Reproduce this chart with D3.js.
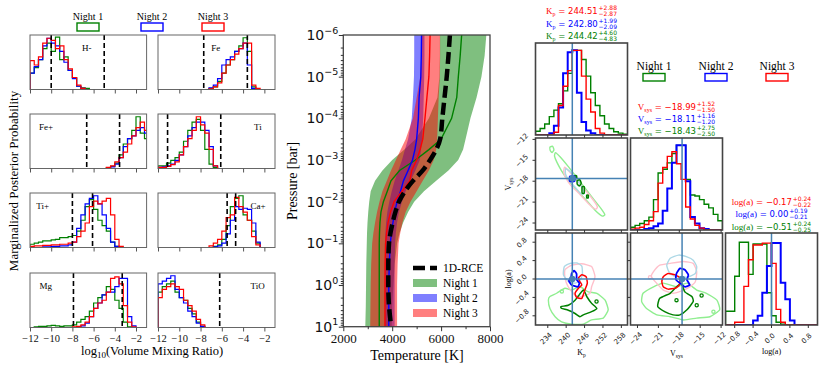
<!DOCTYPE html>
<html><head><meta charset="utf-8">
<script src="https://cdn.jsdelivr.net/npm/d3@7"></script>
<style>body{margin:0;background:#fff}svg{display:block}</style>
</head><body>
<svg id="c" width="831" height="369"></svg>
<script>
// ================= DATA =================
const nights = ["Night 1","Night 2","Night 3"];
const nightColors = ["green","blue","red"];

// ---- left: marginalized posteriors of log10 VMR ----
const species = ["H-","Fe","Fe+","Ti","Ti+","Ca+","Mg","TiO"];
const speciesLabelX = [-7.1,-7.0,-11.15,-2.97,-11.4,-3.3,-11.1,-3.3];
const vmrTicks = [-12,-10,-8,-6,-4,-2];
const binWidth = 0.4;
const histStart = [-12,-7.2,-4.8,-12,-12,-7.2,-12,-12];
const hist1 = [ // Night 1
  [0.3,0.4,0.55,0.75,0.85,0.7,0.96,0.55,0.6,0.35,0.22,0.06,0.03,0.02,0],
  [0.02,0.05,0.15,0.3,0.45,0.55,0.7,0.8,0.95,0.7,0.05,0],
  [0.01,0.04,0.1,0.25,0.45,0.55,0.7,0.95,0.65,0.55],
  [0.05,0.05,0.1,0.15,0.2,0.3,0.5,0.7,0.85,0.9,0.7,0.35,0.08,0.02,0],
  [0.06,0.08,0.1,0.12,0.12,0.14,0.15,0.18,0.18,0.2,0.22,0.3,0.5,0.75,0.88,0.7,0.5,0.4,0.3,0.1,0.02,0],
  [0,0.02,0.05,0.15,0.4,0.75,0.9,0.95,0.6,0.5,0.3,0.08,0],
  [0,0.01,0.02,0.02,0.03,0.04,0.03,0.02,0.03,0.03,0.05,0.1,0.15,0.2,0.3,0.45,0.55,0.6,0.75,0.7,0.5,0.35,0.1,0.01,0],
  [0.65,0.75,0.8,0.85,0.65,0.55,0.5,0.35,0.25,0.1,0.02,0]
];
const hist2 = [ // Night 2
  [0.3,0.42,0.55,0.8,0.94,0.85,0.8,0.7,0.5,0.35,0.2,0.06,0.02,0,0],
  [0.03,0.08,0.2,0.45,0.55,0.6,0.7,0.75,0.85,0.45,0.02,0],
  [0,0.03,0.08,0.2,0.4,0.55,0.6,0.7,0.75,0.65],
  [0.02,0.03,0.05,0.08,0.15,0.25,0.4,0.6,0.75,0.85,0.85,0.7,0.4,0.05,0],
  [0,0,0,0.01,0.01,0.02,0.02,0.03,0.03,0.05,0.1,0.35,0.6,0.8,0.9,0.95,0.8,0.6,0.35,0.1,0.02,0],
  [0,0.01,0.03,0.08,0.25,0.5,0.75,0.7,0.72,0.7,0.45,0.1,0],
  [0,0,0,0,0,0,0,0,0,0,0,0.01,0.03,0.08,0.2,0.35,0.45,0.6,0.65,0.65,0.75,0.9,0.9,0.2,0.03],
  [0.8,0.85,0.9,0.95,0.7,0.55,0.45,0.3,0.2,0.08,0.02,0]
];
const hist3 = [ // Night 3
  [0.53,0.45,0.6,0.85,0.94,0.9,0.75,0.8,0.55,0.38,0.22,0.08,0.02,0,0],
  [0.01,0.05,0.12,0.3,0.45,0.55,0.65,0.75,0.85,0.85,0.08,0.02],
  [0.02,0.05,0.12,0.2,0.3,0.45,0.6,0.75,0.85,0.7],
  [0.02,0.02,0.04,0.07,0.12,0.25,0.4,0.55,0.7,0.95,0.8,0.65,0.35,0.05,0],
  [0.02,0.03,0.03,0.04,0.04,0.05,0.05,0.06,0.06,0.08,0.1,0.2,0.3,0.45,0.75,0.85,0.8,0.85,0.9,0.6,0.15,0.02],
  [0.03,0.08,0.15,0.3,0.55,0.6,0.92,0.75,0.65,0.5,0.2,0.05,0],
  [0,0,0,0,0,0,0,0,0,0,0.01,0.02,0.05,0.1,0.2,0.35,0.45,0.5,0.65,0.9,0.93,0.8,0.4,0.1,0.01],
  [0.55,0.7,0.75,0.8,0.75,0.7,0.5,0.4,0.3,0.15,0.05,0]
];
const refLines = [[-10,-5],[-7.7,-3.6],[-6.65,-3.55],[-11.1,-6.1],[-8,-6.1],[-5.5,-4.7],[-7.9,-3.3],[-6.2]];

// ---- middle: temperature-pressure profiles ----
const tRange = [2000,8000];
const tTicks = [2000,4000,6000,8000];
const tMinor = [3000,5000,7000];
const pDecades = [-6,-5,-4,-3,-2,-1,0,1];
const logP = [-6,-5.5,-5,-4.5,-4,-3.5,-3.25,-3,-2.75,-2.5,-2.25,-2,-1.75,-1.5,-1.25,-1,-0.5,0,0.5,1];
const tRCE  = [6360,6300,6230,6140,6050,5960,5800,5550,5250,4850,4520,4280,4130,4020,3930,3870,3840,3840,3870,3960];
const t1Lo  = [5950,5950,5930,5850,5500,4950,4500,4000,3600,3300,3120,3060,3020,2990,2970,2960,2940,2930,2920,2900];
const t1Mid = [6840,6780,6705,6640,6430,6000,5500,4950,4300,3950,3800,3640,3540,3500,3480,3470,3470,3470,3470,3470];
const t1Hi  = [7850,7780,7650,7450,7200,7000,6900,6700,6300,5800,5300,4900,4650,4450,4300,4200,4100,4050,4000,3980];
const t2Lo  = [4900,4900,4890,4850,4800,4650,4520,4400,4250,4100,3980,3880,3800,3750,3720,3700,3700,3700,3700,3700];
const t2Mid = [5200,5190,5170,5100,5070,5000,4930,4830,4650,4460,4340,4200,4100,4030,3970,3920,3880,3860,3860,3860];
const t2Hi  = [5320,5320,5310,5290,5270,5220,5180,5130,4950,4750,4550,4400,4280,4200,4150,4120,4100,4100,4100,4100];
const t3Lo  = [5200,5200,5150,5000,4850,4550,4350,4150,3950,3780,3600,3480,3380,3300,3230,3180,3140,3120,3110,3100];
const t3Mid = [5550,5530,5500,5420,5340,5250,5140,5000,4800,4720,4400,4080,3930,3830,3770,3730,3710,3705,3705,3705];
const t3Hi  = [5960,5960,5950,5900,5870,5840,5800,5700,5500,5250,5000,4750,4550,4420,4330,4260,4220,4200,4200,4200];

// ---- right: corner plot ----
const kpRange = [230,260], vsRange = [-25,-11.8], laRange = [-1,1];
const kpTicks = [234,240,246,252,258], vsTicks = [-24,-21,-18,-15,-12], laTicks = [-0.8,-0.4,0,0.4,0.8];
const truthKp = 242, truthVs = -17.6, truthLa = 0;
const kpHist = [
  [0.04,0.07,0.12,0.2,0.27,0.34,0.48,0.67,0.92,0.92,0.82,0.64,0.46,0.32,0.21,0.12,0.07,0.035,0.02,0.01],
  [0,0,0,0.02,0.1,0.3,0.67,0.9,0.92,0.46,0.14,0.05,0.02,0,0,0,0,0,0,0],
  [0,0,0,0,0.03,0.32,0.53,0.7,0.92,0.92,0.64,0.39,0.25,0.07,0.02,0,0,0,0,0]
];
const vsHist = [
  [0.03,0.05,0.07,0.1,0.14,0.33,0.62,0.66,0.73,0.83,0.92,0.92,0.55,0.38,0.37,0.33,0.28,0.24,0.17,0.1],
  [0,0,0,0.01,0.02,0.04,0.07,0.21,0.45,0.73,0.92,0.92,0.53,0.14,0.07,0.02,0.01,0,0,0],
  [0.01,0.02,0.03,0.06,0.1,0.2,0.51,0.68,0.8,0.85,0.72,0.55,0.25,0.12,0.05,0.02,0,0,0,0]
];
const laHist = [
  [0.15,0.15,0.53,0.9,0.9,0.55,0.88,0.88,0.88,0.35,0.1,0.03,0.01,0,0,0,0,0,0,0],
  [0,0,0,0,0,0,0.05,0.1,0.35,0.64,0.89,0.89,0.46,0.28,0.05,0,0,0,0,0],
  [0,0,0.03,0.03,0.42,0.71,0.87,0.87,0.89,0.89,0.67,0.17,0.03,0,0,0,0,0,0,0]
];
const kpStats = [["244.51","+2.88","\u22122.87"],["242.80","+1.99","\u22122.09"],["244.42","+4.60","\u22124.83"]];
const vsStats = [["\u221218.99","+1.52","\u22121.50"],["\u221218.11","+1.16","\u22121.20"],["\u221218.43","+2.75","\u22122.50"]];
const laStats = [["\u22120.17","+0.24","\u22120.22"],["0.00","+0.19","\u22120.21"],["\u22120.51","+0.24","\u22120.25"]];
const statColors = ["red","blue","green"];

// contours (Kp, Vsys)
const kvLightGreen = [
  [[236.5,-13.9],[238,-14.5],[240.5,-15.8],[243,-17.2],[246,-18.9],[249,-20.6],[251.5,-22.0],[252.6,-22.8],[251.8,-23.0],[249.5,-22.2],[246.5,-20.7],[243.5,-19.3],[240.5,-17.8],[238.5,-16.5],[237,-15.3],[236.2,-14.4]],
  [[234.7,-13.1],[235.6,-13.0],[236.0,-13.5],[235.4,-13.9],[234.8,-13.6]]
];
const kvPink = [[[239.5,-16.0],[241,-16.6],[243.5,-17.9],[246.5,-19.4],[249,-20.8],[250.2,-21.7],[249.5,-22.0],[247.5,-21.3],[244.5,-19.9],[241.5,-18.6],[239.7,-17.4],[239.2,-16.6]]];
const kvLightBlue = [[[239.8,-16.2],[241.5,-16.7],[243.5,-17.7],[245.5,-19.2],[245.8,-19.8],[244.8,-19.8],[242.8,-18.8],[240.8,-17.8],[239.8,-17.0]]];
const kvGreen = [
  [[243.6,-17.9],[244.5,-17.8],[244.9,-18.3],[244.3,-18.7],[243.6,-18.4]],
  [[245.2,-18.8],[245.9,-18.8],[245.9,-19.7],[245.2,-19.7]],
  [[242.8,-17.2],[243.4,-17.2],[243.4,-17.6],[242.8,-17.6]],
  [[246.7,-20.0],[247.2,-20.0],[247.2,-20.4],[246.7,-20.4]]
];
const kvBlue = [[[241.2,-17.3],[242.7,-17.3],[242.7,-18.0],[241.2,-18.0]]];
// contours (Kp, log a)
const kaLightGreen = [[[234.7,-0.38],[236.9,-0.31],[239.6,-0.2],[241.8,-0.24],[244.5,-0.17],[247.2,-0.28],[250,-0.31],[252.7,-0.46],[253.7,-0.67],[252.1,-0.85],[248.3,-0.89],[245.6,-0.98],[241.8,-0.98],[238.5,-0.93],[236.4,-0.82],[234.7,-0.64],[234.2,-0.46]]];
const kaPink = [[[239.6,0.2],[241.8,0.3],[245.1,0.33],[248.3,0.27],[249.4,0.05],[248.3,-0.17],[247.8,-0.31],[245.1,-0.38],[242.9,-0.35],[240.7,-0.17],[239.6,0.02]]];
const kaLightBlue = [[[239.1,0.09],[239.4,0.27],[241.3,0.34],[243.5,0.35],[245.1,0.28],[245.3,0.12],[244.6,-0.02],[243,-0.09],[240.8,-0.06]]];
const kaGreen = [[[238.3,-0.6],[240.7,-0.57],[242.9,-0.46],[245.6,-0.24],[246.7,-0.38],[248.3,-0.53],[250,-0.64],[248.3,-0.71],[245.6,-0.78],[244.5,-0.82],[242.9,-0.75],[240.7,-0.68],[238.5,-0.64]]];
const kaRed = [[[244,0.02],[245.1,0.09],[246.5,0.05],[246.9,-0.09],[246.1,-0.24],[245.1,-0.42],[243.4,-0.40],[242.9,-0.31],[244,-0.2],[245.1,-0.13],[244.5,-0.06]]];
const kaBlue = [[[241.8,0.12],[242.6,0.18],[243.4,0.11],[243.4,-0.01],[244.3,-0.09],[243.8,-0.17],[241.8,-0.13],[240.9,-0.04],[241.6,0.04]]];
const kaDots = [[249.9,-0.49,"green"],[238.6,-0.27,"lightgreen"]];
// contours (Vsys, log a)
const vaLightGreen = [[[-23.2,-0.31],[-21.7,-0.17],[-20.3,-0.09],[-18.4,-0.17],[-16.9,-0.09],[-15.5,-0.24],[-14.1,-0.31],[-12.6,-0.46],[-12.2,-0.67],[-13.6,-0.82],[-15.5,-0.85],[-17.4,-0.89],[-19.3,-0.82],[-21.2,-0.78],[-22.7,-0.64],[-23.4,-0.49]]];
const vaPink = [[[-21.7,0.16],[-20.8,0.3],[-19.3,0.34],[-17.4,0.38],[-16,0.34],[-15.5,0.16],[-15.7,-0.06],[-16.5,-0.17],[-17.4,-0.24],[-18.9,-0.31],[-20.3,-0.24],[-21.2,-0.1],[-22,0.05]]];
const vaLightBlue = [[[-19.8,0.3],[-19.3,0.45],[-18.1,0.52],[-16.9,0.48],[-16,0.41],[-15.5,0.27],[-15.7,0.12],[-16.7,0.05],[-17.8,0.04],[-18.8,0.07],[-19.5,0.16]]];
const vaGreen = [[[-20.8,-0.42],[-19.3,-0.31],[-18.4,-0.17],[-17.7,-0.09],[-17.2,-0.28],[-16.2,-0.38],[-16,-0.49],[-16.9,-0.67],[-17.9,-0.78],[-18.9,-0.78],[-20.1,-0.71],[-21.1,-0.6]]];
const vaRed = [[[-20.3,0.05],[-19.6,0.12],[-18.6,0.09],[-17.9,0.02],[-18,-0.13],[-18.6,-0.2],[-19.6,-0.22],[-20.3,-0.17],[-20.5,-0.06]]];
const vaBlue = [[[-18.4,0.12],[-17.9,0.23],[-17.2,0.2],[-16.7,0.09],[-16.9,-0.02],[-16.5,-0.13],[-17.2,-0.17],[-17.9,-0.09],[-18.5,-0.01]]];
const vaDots = [[-14.8,-0.36,"green"],[-15.5,-0.57,"green"],[-18.4,-0.46,"green"],[-13.1,-0.71,"lightgreen"],[-22.2,0.04,"pink"]];

// ================= DRAWING =================
const svg = d3.select("#c");
const SERIF = "'Liberation Serif','Times New Roman',serif";
const SANS = "'DejaVu Sans',sans-serif";
const defs = svg.append("defs");
function clip(id,x,y,w,h){defs.append("clipPath").attr("id",id).append("rect").attr("x",x).attr("y",y).attr("width",w).attr("height",h);return `url(#${id})`;}
function stepPts(x0,w,vals){const p=[[x0,0]];vals.forEach((v,j)=>{p.push([x0+j*w,v]);p.push([x0+(j+1)*w,v]);});p.push([x0+vals.length*w,0]);return p;}

// ---------- LEFT PANEL ----------
const colX = [[30,146.6],[158,275]];
const rowY = [35,114,193,273];
const panH = 54.5;
species.forEach((sp,i)=>{
  const c=i%2, r=Math.floor(i/2);
  const x=d3.scaleLinear().domain([-12,-1]).range(colX[c]);
  const y=d3.scaleLinear().domain([0,1]).range([rowY[r]+panH,rowY[r]]);
  const g=svg.append("g");
  const inner=g.append("g").attr("clip-path",clip("cl"+i,colX[c][0],rowY[r],colX[c][1]-colX[c][0],panH));
  [hist1,hist2,hist3].forEach((H,k)=>{
    inner.append("path").attr("d",d3.line().x(d=>x(d[0])).y(d=>y(d[1]))(stepPts(histStart[i],binWidth,H[i])))
      .attr("fill","none").attr("stroke",nightColors[k]).attr("stroke-width",1.2);
  });
  refLines[i].forEach(v=>{
    inner.append("line").attr("x1",x(v)).attr("x2",x(v)).attr("y1",rowY[r]).attr("y2",rowY[r]+panH)
      .attr("stroke","#000").attr("stroke-width",1.6).attr("stroke-dasharray","5,3");
  });
  g.append("rect").attr("x",colX[c][0]).attr("y",rowY[r]).attr("width",colX[c][1]-colX[c][0]).attr("height",panH)
    .attr("fill","none").attr("stroke","#666").attr("stroke-width",1);
  const ax=g.append("g").attr("transform",`translate(0,${rowY[r]+panH})`)
    .call(d3.axisBottom(x).tickValues(vmrTicks).tickSize(4).tickPadding(3).tickFormat(r===3?d3.format("d"):()=>""));
  ax.select(".domain").remove();
  ax.selectAll("line").attr("stroke","#555");
  ax.selectAll("text").attr("font-family",SERIF).attr("font-size",10.5).attr("fill","#111");
  g.append("text").attr("x",x(speciesLabelX[i])).attr("y",rowY[r]+16).attr("font-family",SERIF).attr("font-size",9).text(sp);
});
// legend left
const legLX=[88,152,213];
nights.forEach((n,k)=>{
  svg.append("text").attr("x",legLX[k]).attr("y",19.5).attr("text-anchor","middle").attr("font-family",SERIF).attr("font-size",10).text(n);
  svg.append("rect").attr("x",legLX[k]-11).attr("y",23).attr("width",22).attr("height",8).attr("fill","#fff").attr("stroke",nightColors[k]).attr("stroke-width",1.4);
});
svg.append("text").attr("transform","translate(18,181) rotate(-90)").attr("text-anchor","middle").attr("font-family",SERIF).attr("font-size",13).text("Marginalized Posterior Probability");
const xl=svg.append("text").attr("x",152).attr("y",355).attr("text-anchor","middle").attr("font-family",SERIF).attr("font-size",12.5);
xl.append("tspan").text("log");xl.append("tspan").attr("dy",3).attr("font-size",9).text("10");xl.append("tspan").attr("dy",-3).text("(Volume Mixing Ratio)");

// ---------- MIDDLE PANEL ----------
const mL=343.3,mR=490,mT=35,mB=326.7;
const xM=d3.scaleLinear().domain(tRange).range([mL,mR]);
const yM=d3.scaleLog().domain([1e-6,1e1]).range([mT,mB]);
const prof=logP.map((p,i)=>({p,rce:tRCE[i],lo:[t1Lo[i],t2Lo[i],t3Lo[i]],mid:[t1Mid[i],t2Mid[i],t3Mid[i]],hi:[t1Hi[i],t2Hi[i],t3Hi[i]]}));
const gM=svg.append("g");
const plotM=gM.append("g").attr("clip-path",clip("cm",mL,mT,mR-mL,mB-mT));
[0,1,2].forEach(k=>{
  plotM.append("path").attr("d",d3.area().y(d=>yM(10**d.p)).x0(d=>xM(d.lo[k])).x1(d=>xM(d.hi[k]))(prof))
    .attr("fill",nightColors[k]).attr("fill-opacity",0.5);
});
[0,1,2].forEach(k=>{
  plotM.append("path").attr("d",d3.line().y(d=>yM(10**d.p)).x(d=>xM(d.mid[k]))(prof))
    .attr("fill","none").attr("stroke",nightColors[k]).attr("stroke-width",1.4);
});
plotM.append("path").attr("d",d3.line().y(d=>yM(10**d.p)).x(d=>xM(d.rce)).curve(d3.curveMonotoneY)(prof))
  .attr("fill","none").attr("stroke","#000").attr("stroke-width",4.5).attr("stroke-dasharray","12,5");
gM.append("rect").attr("x",mL).attr("y",mT).attr("width",mR-mL).attr("height",mB-mT).attr("fill","none").attr("stroke","#444").attr("stroke-width",1.3);
// axes
const minorP=[];pDecades.slice(0,-1).forEach(d=>{for(let m=2;m<10;m++)minorP.push(m*10**d);});
const ayMin=gM.append("g").attr("transform",`translate(${mL},0)`).call(d3.axisLeft(yM).tickValues(minorP).tickSize(2.5).tickFormat(()=>""));
const ayMaj=gM.append("g").attr("transform",`translate(${mL},0)`).call(d3.axisLeft(yM).tickValues(pDecades.map(d=>10**d)).tickSize(4.5).tickFormat(()=>""));
[ayMin,ayMaj].forEach(a=>{a.select(".domain").remove();a.selectAll("line").attr("stroke","#333");});
pDecades.forEach(d=>{
  const t=gM.append("text").attr("x",mL-5).attr("y",yM(10**d)+5).attr("text-anchor","end").attr("font-family",SANS).attr("font-size",14).attr("fill","#111");
  t.append("tspan").text("10");
  t.append("tspan").attr("dy",-6.5).attr("font-size",9.5).text(d<0?"\u2212"+(-d):String(d));
});
const axMin=gM.append("g").attr("transform",`translate(0,${mB})`).call(d3.axisBottom(xM).tickValues(tMinor).tickSize(2.5).tickFormat(()=>""));
const axMaj=gM.append("g").attr("transform",`translate(0,${mB})`).call(d3.axisBottom(xM).tickValues(tTicks).tickSize(4.5).tickPadding(3).tickFormat(d3.format("d")));
[axMin,axMaj].forEach(a=>{a.select(".domain").remove();a.selectAll("line").attr("stroke","#333");});
axMaj.selectAll("text").attr("font-family",SERIF).attr("font-size",13).attr("fill","#111");
svg.append("text").attr("x",417).attr("y",360).attr("text-anchor","middle").attr("font-family",SERIF).attr("font-size",14).text("Temperature [K]");
svg.append("text").attr("transform","translate(297,181) rotate(-90)").attr("text-anchor","middle").attr("font-family",SERIF).attr("font-size",14).text("Pressure [bar]");
// legend
const legM=gM.append("g");
const legRows=[268,283,298,313];
legM.append("line").attr("x1",413).attr("x2",437).attr("y1",legRows[0]).attr("y2",legRows[0]).attr("stroke","#000").attr("stroke-width",4.5).attr("stroke-dasharray","12,5");
legM.append("text").attr("x",443).attr("y",legRows[0]+4).attr("font-family",SERIF).attr("font-size",11.5).text("1D-RCE");
nights.forEach((n,k)=>{
  legM.append("rect").attr("x",413).attr("y",legRows[k+1]-4).attr("width",24).attr("height",8).attr("fill",nightColors[k]).attr("fill-opacity",0.5);
  legM.append("text").attr("x",443).attr("y",legRows[k+1]+4).attr("font-family",SERIF).attr("font-size",11.5).text(n);
});

// ---------- CORNER PLOT ----------
const cols=[535.5,630.5,725.5], rowsC=[43,138,233], S=92;
const kpX=d3.scaleLinear().domain(kpRange).range([cols[0],cols[0]+S]);
const vsX=d3.scaleLinear().domain(vsRange).range([cols[1],cols[1]+S]);
const laX=d3.scaleLinear().domain(laRange).range([cols[2],cols[2]+S]);
const vsY=d3.scaleLinear().domain(vsRange).range([rowsC[1]+S,rowsC[1]]);
const laY=d3.scaleLinear().domain(laRange).range([rowsC[2]+S,rowsC[2]]);
const TRUTH="#4682b4";
const gC=svg.append("g");
function frame(cx,ry){gC.append("rect").attr("x",cx).attr("y",ry).attr("width",S).attr("height",S).attr("fill","none").attr("stroke","#444").attr("stroke-width",1.6);}
function xTicks(scale,ticks,ry,labels){
  ticks.forEach(t=>{
    gC.append("line").attr("x1",scale(t)).attr("x2",scale(t)).attr("y1",ry+S).attr("y2",ry+S+3).attr("stroke","#333");
    if(labels){gC.append("text").attr("transform",`translate(${scale(t)},${ry+S+15}) rotate(-45)`).attr("text-anchor","middle").attr("font-family",SANS).attr("font-size",7).attr("fill","#222").text(labels(t));}
  });
}
function yTicks(scale,ticks,cx,labels){
  ticks.forEach(t=>{
    gC.append("line").attr("y1",scale(t)).attr("y2",scale(t)).attr("x1",cx).attr("x2",cx-3).attr("stroke","#333");
    if(labels){gC.append("text").attr("transform",`translate(${cx-12},${scale(t)+2}) rotate(-45)`).attr("text-anchor","middle").attr("font-family",SANS).attr("font-size",7).attr("fill","#222").text(labels(t));}
  });
}
function chist(xs,range,H,col,row,truth){
  const y=d3.scaleLinear().domain([0,1]).range([rowsC[row]+S,rowsC[row]]);
  const w=(range[1]-range[0])/H[0].length;
  const g=gC.append("g").attr("clip-path",clip("ch"+col+row,cols[col],rowsC[row],S,S));
  [0,1,2].forEach(k=>{
    g.append("path").attr("d",d3.line().x(d=>xs(d[0])).y(d=>y(d[1]))(stepPts(range[0],w,H[k])))
      .attr("fill","none").attr("stroke",nightColors[k]).attr("stroke-width",k===1?2:1.4);
  });
  g.append("line").attr("x1",xs(truth)).attr("x2",xs(truth)).attr("y1",rowsC[row]).attr("y2",rowsC[row]+S).attr("stroke",TRUTH).attr("stroke-width",1.5);
  frame(cols[col],rowsC[row]);
}
function c2d(xs,ys,col,row,sets,dots,tx,ty){
  const g=gC.append("g").attr("clip-path",clip("c2"+col+row,cols[col],rowsC[row],S,S));
  const ln=d3.line().x(d=>xs(d[0])).y(d=>ys(d[1])).curve(d3.curveCardinalClosed.tension(0.5));
  sets.forEach(([polys,color,wd])=>polys.forEach(p=>g.append("path").attr("d",ln(p)).attr("fill","none").attr("stroke",color).attr("stroke-width",wd)));
  (dots||[]).forEach(d=>g.append("circle").attr("cx",xs(d[0])).attr("cy",ys(d[1])).attr("r",1.6).attr("fill","none").attr("stroke",d[2]).attr("stroke-width",1.3));
  g.append("line").attr("x1",xs(tx)).attr("x2",xs(tx)).attr("y1",rowsC[row]).attr("y2",rowsC[row]+S).attr("stroke",TRUTH).attr("stroke-width",1.5);
  g.append("line").attr("y1",ys(ty)).attr("y2",ys(ty)).attr("x1",cols[col]).attr("x2",cols[col]+S).attr("stroke",TRUTH).attr("stroke-width",1.5);
  g.append("circle").attr("cx",xs(tx)).attr("cy",ys(ty)).attr("r",3.2).attr("fill",TRUTH);
  frame(cols[col],rowsC[row]);
}
const f1=d3.format(".1f"), fd=d3.format("d");
chist(kpX,kpRange,kpHist,0,0,truthKp); xTicks(kpX,kpTicks,rowsC[0],null);
c2d(kpX,vsY,0,1,[[kvLightGreen,"lightgreen",1.4],[kvPink,"pink",1.4],[kvLightBlue,"lightblue",1.4],[kvGreen,"green",1.5],[kvBlue,"blue",1.8]],[],truthKp,truthVs);
xTicks(kpX,kpTicks,rowsC[1],null); yTicks(vsY,vsTicks,cols[0],fd);
chist(vsX,vsRange,vsHist,1,1,truthVs); xTicks(vsX,vsTicks,rowsC[1],null);
c2d(kpX,laY,0,2,[[kaLightGreen,"lightgreen",1.4],[kaPink,"pink",1.4],[kaLightBlue,"lightblue",1.4],[kaGreen,"green",1.5],[kaRed,"red",1.5],[kaBlue,"blue",1.8]],kaDots,truthKp,truthLa);
xTicks(kpX,kpTicks,rowsC[2],fd); yTicks(laY,laTicks,cols[0],f1);
c2d(vsX,laY,1,2,[[vaLightGreen,"lightgreen",1.4],[vaPink,"pink",1.4],[vaLightBlue,"lightblue",1.4],[vaGreen,"green",1.5],[vaRed,"red",1.5],[vaBlue,"blue",1.8]],vaDots,truthVs,truthLa);
xTicks(vsX,vsTicks,rowsC[2],fd); yTicks(laY,laTicks,cols[1],null);
chist(laX,laRange,laHist,2,2,truthLa); xTicks(laX,laTicks,rowsC[2],f1);

// axis labels
function symLabel(x,y,rot,main,sub,size){
  const t=gC.append("text").attr("transform",`translate(${x},${y}) rotate(${rot})`).attr("text-anchor","middle").attr("font-family",SERIF).attr("font-size",size);
  t.append("tspan").text(main); if(sub){t.append("tspan").attr("dy",2).attr("font-size",size*0.7).text(sub);}
}
symLabel(cols[0]+S/2,rowsC[2]+S+30,0,"K","p",8);
symLabel(cols[1]+S/2,rowsC[2]+S+31,0,"V","sys",8);
symLabel(cols[2]+S/2,rowsC[2]+S+29,0,"log(a)",null,8);
symLabel(cols[0]-25,rowsC[1]+S/2,-90,"V","sys",8);
symLabel(cols[0]-25,rowsC[2]+S/2,-90,"log(a)",null,8);

// stats annotations
function annot(cx,by,color,sym,symSub,val,up,lo){
  const g=gC.append("g");
  const t=g.append("text").attr("y",by).attr("font-family",SANS).attr("font-size",8.5).attr("fill",color);
  t.append("tspan").attr("font-family",SERIF).attr("font-size",9).text(sym);
  if(symSub)t.append("tspan").attr("dy",2).attr("font-size",6).attr("font-family",SERIF).text(symSub);
  t.append("tspan").attr("dy",symSub?-2:0).text(" = "+val);
  const w=t.node().getComputedTextLength();
  const a=g.append("text").attr("x",w+0.8).attr("y",by-3.8).attr("font-family",SANS).attr("font-size",6).attr("fill",color).text(up);
  const b=g.append("text").attr("x",w+0.8).attr("y",by+2.2).attr("font-family",SANS).attr("font-size",6).attr("fill",color).text(lo);
  const tw=w+0.8+Math.max(a.node().getComputedTextLength(),b.node().getComputedTextLength());
  g.attr("transform",`translate(${cx-tw/2},0)`);
}
const kpBase=[14,27,39], vsBase=[110,122,134], laBase=[205,217,230];
[0,1,2].forEach(k=>{
  annot(581.5,kpBase[k],statColors[k],"K","p",kpStats[k][0],kpStats[k][1],kpStats[k][2]);
  annot(676.5,vsBase[k],statColors[k],"V","sys",vsStats[k][0],vsStats[k][1],vsStats[k][2]);
  annot(771.5,laBase[k],statColors[k],"log(a)",null,laStats[k][0],laStats[k][1],laStats[k][2]);
});
// corner legend
const legCX=[654,716,777];
nights.forEach((n,k)=>{
  gC.append("text").attr("x",legCX[k]).attr("y",70).attr("text-anchor","middle").attr("font-family",SERIF).attr("font-size",11.5).text(n);
  gC.append("rect").attr("x",legCX[k]-11).attr("y",73.5).attr("width",22).attr("height",7.5).attr("fill","#fff").attr("stroke",nightColors[k]).attr("stroke-width",1.4);
});
</script>
</body></html>
